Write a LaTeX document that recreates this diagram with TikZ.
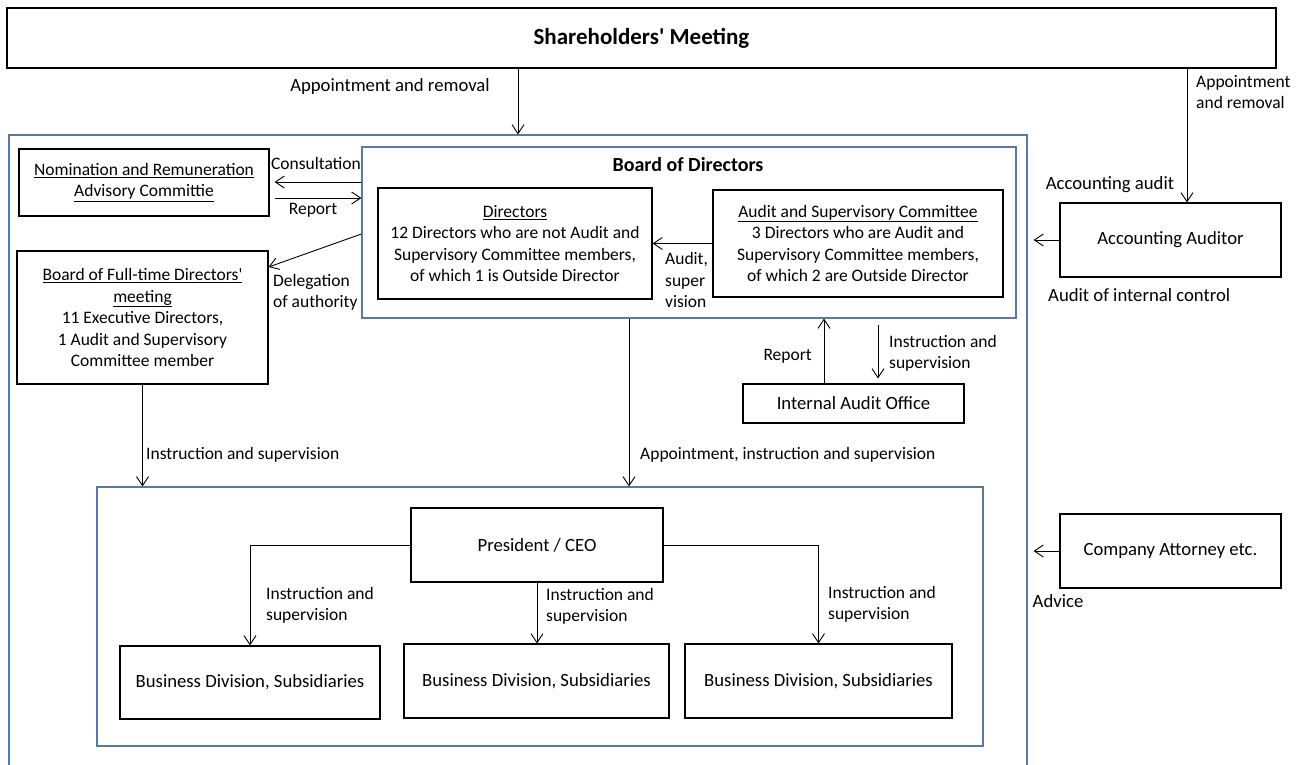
\documentclass[tikz,border=0pt]{standalone}
\usepackage{fontspec}
\setmainfont{Carlito}
\usepackage{xcolor}
\usetikzlibrary{calc,arrows.meta,positioning}
\definecolor{frameblue}{RGB}{88,120,166}

\begin{document}
\begin{tikzpicture}[x=1pt, y=-1pt,
        font=\fontsize{17.5}{21.5}\selectfont,
        boxsize/.style 2 args={minimum width=#1pt, minimum height=#2pt},
        box/.style={draw=black, line width=1.2pt, inner sep=0pt, align=center},
        bluebox/.style={draw=frameblue, line width=1.2pt, inner sep=0pt},
        bigtxt/.style={font=\fontsize{18.7}{22}\selectfont},
        arr/.style={-{Straight Barb[length=9pt,width=12pt]}, line width=0.9pt},
        lbl/.style={inner sep=0pt, align=left}]

        \useasboundingbox (0,0) rectangle (1310,765);

        % frames
        \node[bluebox, boxsize={1018}{650}] (outer) at (518,460) {};
        \node[bluebox, boxsize={654}{171}] (bod) at (689,232.5) {};
        \node[bluebox, boxsize={886}{259}] (inner) at (540,616.5) {};

        % boxes
        \node[box, line width=2pt, boxsize={1269}{60}] (share) at (641.5,38)
            {\fontsize{23}{26}\selectfont\bfseries Shareholders\textquotesingle\ Meeting};
        \node[inner sep=0pt] (bodtitle) at (688,165)
            {\fontsize{20}{24}\selectfont\bfseries Board of Directors};
        \node[box, boxsize={250}{67}] (nom) at (144,182.5)
            {\underline{Nomination and Remuneration}\\ \underline{Advisory Committie}};
        \node[box, boxsize={274}{111}] (dirs) at (515,243.5)
            {\underline{Directors}\\ 12 Directors who are not Audit and\\ Supervisory Committee members,\\ of which 1 is Outside Director};
        \node[box, boxsize={290}{107}] (asc) at (858,243.5)
            {\underline{Audit and Supervisory Committee}\\ 3 Directors who are Audit and\\ Supervisory Committee members,\\ of which 2 are Outside Director};
        \node[box, boxsize={251}{133}] (full) at (142.5,317.5)
            {\underline{Board of Full-time Directors\textquotesingle}\\ \underline{meeting}\\ 11 Executive Directors,\\ 1 Audit and Supervisory\\ Committee member};
        \node[box, bigtxt, boxsize={221}{39}] (iao) at (853.5,403.5) {Internal Audit Office};
        \node[box, bigtxt, boxsize={221}{74}] (aa) at (1170.5,240) {Accounting Auditor};
        \node[box, bigtxt, boxsize={221}{74}] (att) at (1170.5,551) {Company Attorney etc.};
        \node[box, bigtxt, boxsize={252}{74}] (pres) at (537,545) {President / CEO};
        \node[box, bigtxt, boxsize={260}{73}] (bd1) at (250,682.5) {Business Division, Subsidiaries};
        \node[box, bigtxt, boxsize={265}{74}] (bd2) at (536.5,681) {Business Division, Subsidiaries};
        \node[box, bigtxt, boxsize={267}{74}] (bd3) at (818.5,681) {Business Division, Subsidiaries};

        % connectors
        \draw[arr] (518,0 |- share.south) -- (518,0 |- outer.north);
        \draw[arr] (1187,0 |- share.south) -- (1187,0 |- aa.north);
        \draw[arr] (bod.west |- 0,182) -- ([xshift=5pt]nom.east |- 0,182);
        \draw[arr] ([xshift=5pt]nom.east |- 0,198) -- (bod.west |- 0,198);
        \draw[arr] (bod.west |- 0,234) -- (full.east |- 0,267);
        \draw[arr] (asc.west) -- (asc.west -| dirs.east);
        \draw[arr] (full.south) -- (full.south |- inner.north);
        \draw[arr] (629,0 |- bod.south) -- (629,0 |- inner.north);
        \draw[arr] (824,0 |- iao.north) -- (824,0 |- bod.south);
        \draw[arr, shorten <=6pt, shorten >=5pt] (878,0 |- bod.south) -- (878,0 |- iao.north);
        \draw[arr, shorten >=6pt] (aa.west) -- (aa.west -| outer.east);
        \draw[arr, shorten >=6pt] (att.west) -- (att.west -| outer.east);
        \draw[arr] (pres.west) -| (bd1.north);
        \draw[arr] (pres.south) -- (pres.south |- bd2.north);
        \draw[arr] (pres.east) -| (bd3.north);

        % labels
        \node[lbl, bigtxt] (lappoint) at (390,87) {Appointment and removal};
        \node[lbl, anchor=west] (lappoint2) at (1196,92) {Appointment\\and removal};
        \node[lbl, bigtxt] (laudit) at (1110,185) {Accounting audit};
        \node[lbl] (lconsult) at (316,163) {Consultation};
        \node[lbl] (lreport) at (313,210) {Report};
        \node[lbl, anchor=west] (ldeleg) at (273,292.5) {Delegation\\of authority};
        \node[lbl, anchor=west] (lsuper) at (665,280) {Audit,\\super\\vision};
        \node[lbl, anchor=east] (lreport2) at (812,356) {Report};
        \node[lbl, anchor=west] (linstr) at (889,353.5) {Instruction and\\supervision};
        \node[lbl, bigtxt, anchor=west] (lcontrol) at (1048,295) {Audit of internal control};
        \node[lbl, anchor=west] (linstr2) at (146,455) {Instruction and supervision};
        \node[lbl, anchor=west] (lappoint3) at (640,455) {Appointment, instruction and supervision};
        \node[lbl, anchor=west] (linstr3) at (266,605.5) {Instruction and\\supervision};
        \node[lbl, anchor=west] (linstr4) at (546,606.5) {Instruction and\\supervision};
        \node[lbl, anchor=west] (linstr5) at (828,604.5) {Instruction and\\supervision};
        \node[lbl, bigtxt] (ladvice) at (1058,601) {Advice};
\end{tikzpicture}
\end{document}
